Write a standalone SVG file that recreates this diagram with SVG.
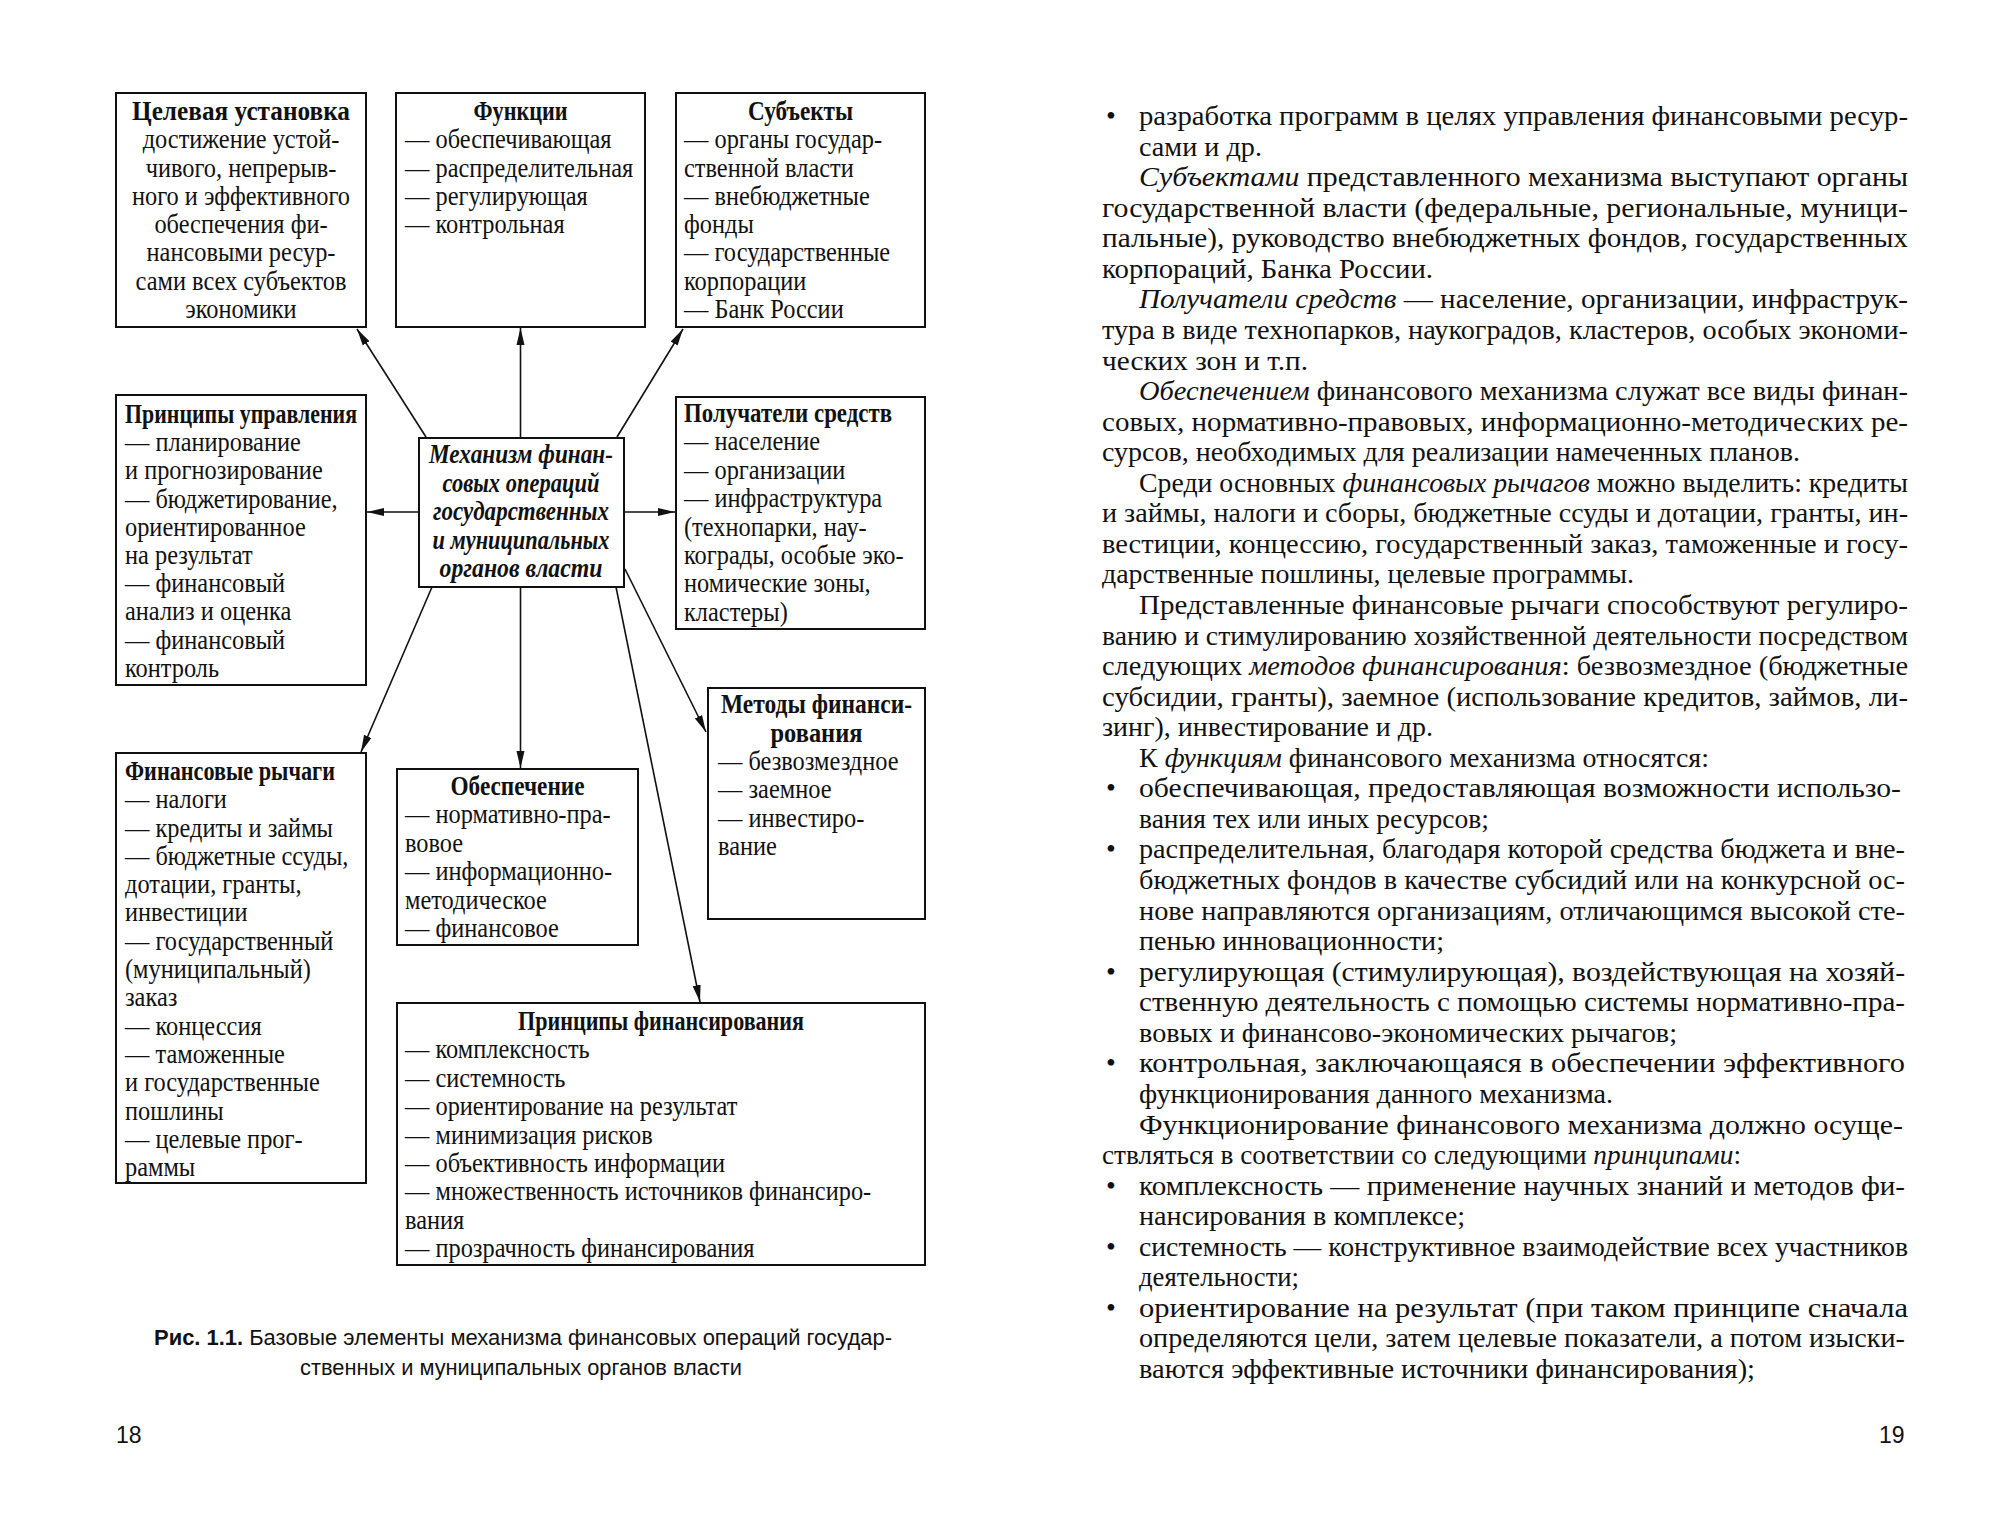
<svg xmlns="http://www.w3.org/2000/svg" width="2000" height="1521" viewBox="0 0 2000 1521">
<defs>
<style>
.box{fill:#fff;stroke:#111;stroke-width:2}
.t{font-family:"Liberation Serif","Times New Roman",serif;font-size:26.5px;fill:#111}
.b{font-weight:bold}
.c{text-anchor:middle}
.bi{font-weight:bold;font-style:italic}
.p{font-family:"Liberation Serif","Times New Roman",serif;font-size:28px;fill:#111}
.i{font-style:italic}
.s{font-family:"Liberation Sans",Arial,sans-serif;fill:#111}
.con{stroke:#111;stroke-width:1.6;fill:none;marker-end:url(#ah)}
</style>
<marker id="ah" markerUnits="userSpaceOnUse" markerWidth="18" markerHeight="10" refX="17" refY="5" orient="auto">
<path d="M0,1 L17,5 L0,9 z" fill="#111"/>
</marker>
</defs>
<rect width="2000" height="1521" fill="#fff"/>

<g id="connectors">
<line class="con" x1="426" y1="437" x2="357" y2="329"/>
<line class="con" x1="520.5" y1="437" x2="520.5" y2="328"/>
<line class="con" x1="617" y1="437" x2="683" y2="329"/>
<line class="con" x1="419" y1="512" x2="367" y2="512"/>
<line class="con" x1="624" y1="512" x2="675" y2="512"/>
<line class="con" x1="432" y1="587" x2="361" y2="752"/>
<line class="con" x1="520.5" y1="587" x2="520.5" y2="768"/>
<line class="con" x1="625" y1="569" x2="706" y2="732"/>
<line class="con" x1="616" y1="587" x2="700" y2="1002"/>
</g>

<g id="node-target">
<rect class="box" x="116" y="93" width="250" height="234"/>
<text class="t b c" x="241" y="120" textLength="218" lengthAdjust="spacingAndGlyphs">Целевая установка</text>
<g transform="translate(241,0) scale(0.92,1) translate(-241,0)">
<text class="t c" x="241" y="148.3">достижение устой-</text>
<text class="t c" x="241" y="176.6">чивого, непрерыв-</text>
<text class="t c" x="241" y="204.9">ного и эффективного</text>
<text class="t c" x="241" y="233.2">обеспечения фи-</text>
<text class="t c" x="241" y="261.5">нансовыми ресур-</text>
<text class="t c" x="241" y="289.8">сами всех субъектов</text>
<text class="t c" x="241" y="318.1">экономики</text>
</g>
</g>

<g id="node-functions">
<rect class="box" x="396" y="93" width="249" height="234"/>
<text class="t b c" x="520.5" y="120" textLength="94" lengthAdjust="spacingAndGlyphs">Функции</text>
<g transform="translate(405,0) scale(0.92,1) translate(-405,0)">
<text class="t" x="405" y="148.3">— обеспечивающая</text>
<text class="t" x="405" y="176.6">— распределительная</text>
<text class="t" x="405" y="204.9">— регулирующая</text>
<text class="t" x="405" y="233.2">— контрольная</text>
</g>
</g>

<g id="node-subjects">
<rect class="box" x="676" y="93" width="249" height="234"/>
<text class="t b c" x="800.5" y="120" textLength="105" lengthAdjust="spacingAndGlyphs">Субъекты</text>
<g transform="translate(684,0) scale(0.92,1) translate(-684,0)">
<text class="t" x="684" y="148.3">— органы государ-</text>
<text class="t" x="684" y="176.6">ственной власти</text>
<text class="t" x="684" y="204.9">— внебюджетные</text>
<text class="t" x="684" y="233.2">фонды</text>
<text class="t" x="684" y="261.5">— государственные</text>
<text class="t" x="684" y="289.8">корпорации</text>
<text class="t" x="684" y="318.1">— Банк России</text>
</g>
</g>

<g id="node-mgmt-principles">
<rect class="box" x="116" y="395" width="250" height="290"/>
<text class="t b" x="125" y="423" textLength="232" lengthAdjust="spacingAndGlyphs">Принципы управления</text>
<g transform="translate(125,0) scale(0.92,1) translate(-125,0)">
<text class="t" x="125" y="451.2">— планирование</text>
<text class="t" x="125" y="479.4">и прогнозирование</text>
<text class="t" x="125" y="507.6">— бюджетирование,</text>
<text class="t" x="125" y="535.8">ориентированное</text>
<text class="t" x="125" y="564">на результат</text>
<text class="t" x="125" y="592.2">— финансовый</text>
<text class="t" x="125" y="620.4">анализ и оценка</text>
<text class="t" x="125" y="648.6">— финансовый</text>
<text class="t" x="125" y="676.8">контроль</text>
</g>
</g>

<g id="node-center">
<rect class="box" x="419" y="438" width="205" height="149"/>
<text class="t bi c" x="521" y="463" textLength="184" lengthAdjust="spacingAndGlyphs">Механизм финан-</text>
<text class="t bi c" x="521" y="491.5" textLength="157" lengthAdjust="spacingAndGlyphs">совых операций</text>
<text class="t bi c" x="521" y="520" textLength="176" lengthAdjust="spacingAndGlyphs">государственных</text>
<text class="t bi c" x="521" y="548.5" textLength="177" lengthAdjust="spacingAndGlyphs">и муниципальных</text>
<text class="t bi c" x="521" y="577" textLength="163" lengthAdjust="spacingAndGlyphs">органов власти</text>
</g>

<g id="node-recipients">
<rect class="box" x="676" y="397" width="249" height="232"/>
<text class="t b" x="684" y="422" textLength="208" lengthAdjust="spacingAndGlyphs">Получатели средств</text>
<g transform="translate(684,0) scale(0.92,1) translate(-684,0)">
<text class="t" x="684" y="450.4">— население</text>
<text class="t" x="684" y="478.8">— организации</text>
<text class="t" x="684" y="507.2">— инфраструктура</text>
<text class="t" x="684" y="535.6">(технопарки, нау-</text>
<text class="t" x="684" y="564">кограды, особые эко-</text>
<text class="t" x="684" y="592.4">номические зоны,</text>
<text class="t" x="684" y="620.8">кластеры)</text>
</g>
</g>

<g id="node-methods">
<rect class="box" x="708" y="688" width="217" height="231"/>
<text class="t b c" x="816.5" y="713" textLength="191" lengthAdjust="spacingAndGlyphs">Методы финанси-</text>
<text class="t b c" x="816.5" y="741.5" textLength="92" lengthAdjust="spacingAndGlyphs">рования</text>
<g transform="translate(718,0) scale(0.92,1) translate(-718,0)">
<text class="t" x="718" y="770">— безвозмездное</text>
<text class="t" x="718" y="798.5">— заемное</text>
<text class="t" x="718" y="827">— инвестиро-</text>
<text class="t" x="718" y="855.5">вание</text>
</g>
</g>

<g id="node-levers">
<rect class="box" x="116" y="753" width="250" height="430"/>
<text class="t b" x="125" y="780" textLength="210" lengthAdjust="spacingAndGlyphs">Финансовые рычаги</text>
<g transform="translate(125,0) scale(0.92,1) translate(-125,0)">
<text class="t" x="125" y="808.3">— налоги</text>
<text class="t" x="125" y="836.6">— кредиты и займы</text>
<text class="t" x="125" y="864.9">— бюджетные ссуды,</text>
<text class="t" x="125" y="893.2">дотации, гранты,</text>
<text class="t" x="125" y="921.5">инвестиции</text>
<text class="t" x="125" y="949.8">— государственный</text>
<text class="t" x="125" y="978.1">(муниципальный)</text>
<text class="t" x="125" y="1006.4">заказ</text>
<text class="t" x="125" y="1034.7">— концессия</text>
<text class="t" x="125" y="1063">— таможенные</text>
<text class="t" x="125" y="1091.3">и государственные</text>
<text class="t" x="125" y="1119.6">пошлины</text>
<text class="t" x="125" y="1147.9">— целевые прог-</text>
<text class="t" x="125" y="1176.2">раммы</text>
</g>
</g>

<g id="node-provision">
<rect class="box" x="397" y="769" width="241" height="176"/>
<text class="t b c" x="517.5" y="795" textLength="134" lengthAdjust="spacingAndGlyphs">Обеспечение</text>
<g transform="translate(405,0) scale(0.92,1) translate(-405,0)">
<text class="t" x="405" y="823.4">— нормативно-пра-</text>
<text class="t" x="405" y="851.8">вовое</text>
<text class="t" x="405" y="880.2">— информационно-</text>
<text class="t" x="405" y="908.6">методическое</text>
<text class="t" x="405" y="937">— финансовое</text>
</g>
</g>

<g id="node-fin-principles">
<rect class="box" x="397" y="1003" width="528" height="262"/>
<text class="t b c" x="661" y="1030" textLength="286" lengthAdjust="spacingAndGlyphs">Принципы финансирования</text>
<g transform="translate(405,0) scale(0.92,1) translate(-405,0)">
<text class="t" x="405" y="1058.4">— комплексность</text>
<text class="t" x="405" y="1086.8">— системность</text>
<text class="t" x="405" y="1115.2">— ориентирование на результат</text>
<text class="t" x="405" y="1143.6">— минимизация рисков</text>
<text class="t" x="405" y="1172">— объективность информации</text>
<text class="t" x="405" y="1200.4">— множественность источников финансиро-</text>
<text class="t" x="405" y="1228.8">вания</text>
<text class="t" x="405" y="1257.2">— прозрачность финансирования</text>
</g>
</g>

<g id="caption">
<text class="s" x="154" y="1345" font-size="22" textLength="738" lengthAdjust="spacingAndGlyphs"><tspan font-weight="bold">Рис. 1.1.</tspan> Базовые элементы механизма финансовых операций государ-</text>
<text class="s" x="300" y="1375" font-size="22" textLength="442" lengthAdjust="spacingAndGlyphs">ственных и муниципальных органов власти</text>
</g>

<g id="page-numbers">
<text class="s" x="116" y="1443" font-size="23">18</text>
<text class="s" x="1879" y="1443" font-size="23">19</text>
</g>

<g id="page19-text">
<text class="p" x="1106" y="125" font-size="20">•</text>
<text class="p" x="1139" y="125" textLength="769" lengthAdjust="spacingAndGlyphs">разработка программ в целях управления финансовыми ресур-</text>
<text class="p" x="1139" y="155.6" textLength="123" lengthAdjust="spacingAndGlyphs">сами и др.</text>
<text class="p" x="1139" y="186.1" textLength="769" lengthAdjust="spacingAndGlyphs"><tspan class="i">Субъектами</tspan> представленного механизма выступают органы</text>
<text class="p" x="1102" y="216.7" textLength="806" lengthAdjust="spacingAndGlyphs">государственной власти (федеральные, региональные, муници-</text>
<text class="p" x="1102" y="247.2" textLength="806" lengthAdjust="spacingAndGlyphs">пальные), руководство внебюджетных фондов, государственных</text>
<text class="p" x="1102" y="277.8" textLength="331" lengthAdjust="spacingAndGlyphs">корпораций, Банка России.</text>
<text class="p" x="1139" y="308.4" textLength="769" lengthAdjust="spacingAndGlyphs"><tspan class="i">Получатели средств</tspan> — население, организации, инфраструк-</text>
<text class="p" x="1102" y="338.9" textLength="806" lengthAdjust="spacingAndGlyphs">тура в виде технопарков, наукоградов, кластеров, особых экономи-</text>
<text class="p" x="1102" y="369.5" textLength="206" lengthAdjust="spacingAndGlyphs">ческих зон и т.п.</text>
<text class="p" x="1139" y="400" textLength="769" lengthAdjust="spacingAndGlyphs"><tspan class="i">Обеспечением</tspan> финансового механизма служат все виды финан-</text>
<text class="p" x="1102" y="430.6" textLength="806" lengthAdjust="spacingAndGlyphs">совых, нормативно-правовых, информационно-методических ре-</text>
<text class="p" x="1102" y="461.2" textLength="698" lengthAdjust="spacingAndGlyphs">сурсов, необходимых для реализации намеченных планов.</text>
<text class="p" x="1139" y="491.7" textLength="769" lengthAdjust="spacingAndGlyphs">Среди основных <tspan class="i">финансовых рычагов</tspan> можно выделить: кредиты</text>
<text class="p" x="1102" y="522.3" textLength="806" lengthAdjust="spacingAndGlyphs">и займы, налоги и сборы, бюджетные ссуды и дотации, гранты, ин-</text>
<text class="p" x="1102" y="552.8" textLength="806" lengthAdjust="spacingAndGlyphs">вестиции, концессию, государственный заказ, таможенные и госу-</text>
<text class="p" x="1102" y="583.4" textLength="532" lengthAdjust="spacingAndGlyphs">дарственные пошлины, целевые программы.</text>
<text class="p" x="1139" y="614" textLength="769" lengthAdjust="spacingAndGlyphs">Представленные финансовые рычаги способствуют регулиро-</text>
<text class="p" x="1102" y="644.5" textLength="806" lengthAdjust="spacingAndGlyphs">ванию и стимулированию хозяйственной деятельности посредством</text>
<text class="p" x="1102" y="675.1" textLength="806" lengthAdjust="spacingAndGlyphs">следующих <tspan class="i">методов финансирования</tspan>: безвозмездное (бюджетные</text>
<text class="p" x="1102" y="705.6" textLength="806" lengthAdjust="spacingAndGlyphs">субсидии, гранты), заемное (использование кредитов, займов, ли-</text>
<text class="p" x="1102" y="736.2" textLength="331" lengthAdjust="spacingAndGlyphs">зинг), инвестирование и др.</text>
<text class="p" x="1139" y="766.8" textLength="570" lengthAdjust="spacingAndGlyphs">К <tspan class="i">функциям</tspan> финансового механизма относятся:</text>
<text class="p" x="1106" y="797.3" font-size="20">•</text>
<text class="p" x="1139" y="797.3" textLength="762" lengthAdjust="spacingAndGlyphs">обеспечивающая, предоставляющая возможности использо-</text>
<text class="p" x="1139" y="827.9" textLength="350" lengthAdjust="spacingAndGlyphs">вания тех или иных ресурсов;</text>
<text class="p" x="1106" y="858.4" font-size="20">•</text>
<text class="p" x="1139" y="858.4" textLength="766" lengthAdjust="spacingAndGlyphs">распределительная, благодаря которой средства бюджета и вне-</text>
<text class="p" x="1139" y="889" textLength="766" lengthAdjust="spacingAndGlyphs">бюджетных фондов в качестве субсидий или на конкурсной ос-</text>
<text class="p" x="1139" y="919.6" textLength="766" lengthAdjust="spacingAndGlyphs">нове направляются организациям, отличающимся высокой сте-</text>
<text class="p" x="1139" y="950.1" textLength="305" lengthAdjust="spacingAndGlyphs">пенью инновационности;</text>
<text class="p" x="1106" y="980.7" font-size="20">•</text>
<text class="p" x="1139" y="980.7" textLength="766" lengthAdjust="spacingAndGlyphs">регулирующая (стимулирующая), воздействующая на хозяй-</text>
<text class="p" x="1139" y="1011.2" textLength="766" lengthAdjust="spacingAndGlyphs">ственную деятельность с помощью системы нормативно-пра-</text>
<text class="p" x="1139" y="1041.8" textLength="538" lengthAdjust="spacingAndGlyphs">вовых и финансово-экономических рычагов;</text>
<text class="p" x="1106" y="1072.4" font-size="20">•</text>
<text class="p" x="1139" y="1072.4" textLength="766" lengthAdjust="spacingAndGlyphs">контрольная, заключающаяся в обеспечении эффективного</text>
<text class="p" x="1139" y="1102.9" textLength="474" lengthAdjust="spacingAndGlyphs">функционирования данного механизма.</text>
<text class="p" x="1139" y="1133.5" textLength="764" lengthAdjust="spacingAndGlyphs">Функционирование финансового механизма должно осуще-</text>
<text class="p" x="1102" y="1164" textLength="639" lengthAdjust="spacingAndGlyphs">ствляться в соответствии со следующими <tspan class="i">принципами</tspan>:</text>
<text class="p" x="1106" y="1194.6" font-size="20">•</text>
<text class="p" x="1139" y="1194.6" textLength="766" lengthAdjust="spacingAndGlyphs">комплексность — применение научных знаний и методов фи-</text>
<text class="p" x="1139" y="1225.2" textLength="326" lengthAdjust="spacingAndGlyphs">нансирования в комплексе;</text>
<text class="p" x="1106" y="1255.7" font-size="20">•</text>
<text class="p" x="1139" y="1255.7" textLength="769" lengthAdjust="spacingAndGlyphs">системность — конструктивное взаимодействие всех участников</text>
<text class="p" x="1139" y="1286.3" textLength="160" lengthAdjust="spacingAndGlyphs">деятельности;</text>
<text class="p" x="1106" y="1316.8" font-size="20">•</text>
<text class="p" x="1139" y="1316.8" textLength="769" lengthAdjust="spacingAndGlyphs">ориентирование на результат (при таком принципе сначала</text>
<text class="p" x="1139" y="1347.4" textLength="766" lengthAdjust="spacingAndGlyphs">определяются цели, затем целевые показатели, а потом изыски-</text>
<text class="p" x="1139" y="1378" textLength="616" lengthAdjust="spacingAndGlyphs">ваются эффективные источники финансирования);</text>
</g>
</svg>
